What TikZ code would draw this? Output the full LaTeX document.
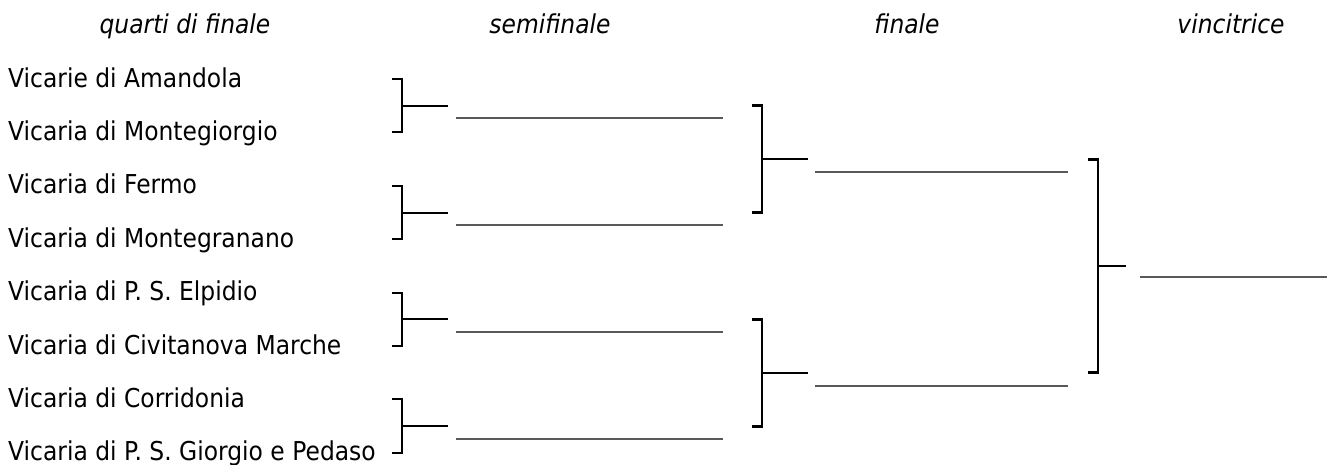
\documentclass[tikz,border=0pt]{standalone}
\usepackage{fontspec}
\setmainfont{DejaVu Sans}[FakeStretch=0.9]
\begin{document}
\begin{tikzpicture}[x=1pt,y=-1pt,
  lbl/.style={anchor=base west,inner sep=0pt,font=\fontsize{26}{30}\selectfont},
  hdr/.style={anchor=base,inner sep=0pt,font=\fontsize{26}{30}\selectfont\itshape},
  brk/.style={line width=2pt,black,line join=miter},
  brkb/.style={line width=2.8pt,black,line join=miter},
  stub/.style={line width=2pt,black},
  blank/.style={line width=2pt,black!65}]
\useasboundingbox (0,0) rectangle (1327,464);
% headers
\node[hdr] (h1) at (185,33) {quarti di finale};
\node[hdr] (h2) at (550,33) {semifinale};
\node[hdr] (h3) at (907,33) {finale};
\node[hdr] (h4) at (1231,33) {vincitrice};
% team labels
\foreach \t [count=\i from 0] in {Vicarie di Amandola,Vicaria di Montegiorgio,Vicaria di Fermo,Vicaria di Montegranano,Vicaria di P. S. Elpidio,Vicaria di Civitanova Marche,Vicaria di Corridonia,Vicaria di P. S. Giorgio e Pedaso}{
  \node[lbl] (q\i) at (8,{79+53.4*\i+8}) {\t};
}
% quarter-final brackets
\foreach \k in {0,...,3}{
  \pgfmathsetmacro\ta{79+106.8*\k}
  \pgfmathsetmacro\tb{\ta+53.4}
  \pgfmathsetmacro\tm{\ta+26.7}
  \coordinate (qa\k) at (402,\ta);
  \coordinate (qb\k) at (402,\tb);
  \coordinate (qm\k) at (402,\tm);
  \coordinate (qs\k) at (448,\tm);
  \coordinate (sl\k) at (456,\tm+12.5);
  \coordinate (sr\k) at (723,\tm+12.5);
  \draw[brk] ([xshift=-10pt]qa\k) -- (qa\k) -- (qb\k) -- ([xshift=-10pt]qb\k);
  \draw[stub] (qm\k) -- (qs\k);
  \draw[blank] (sl\k) -- (sr\k);
}
% final brackets
\foreach \j in {0,1}{
  \pgfmathsetmacro\ta{105.7+213.6*\j}
  \pgfmathsetmacro\tb{\ta+106.8}
  \pgfmathsetmacro\tm{\ta+53.4}
  \coordinate (fa\j) at (762,\ta);
  \coordinate (fb\j) at (762,\tb);
  \coordinate (fm\j) at (762,\tm);
  \coordinate (fs\j) at (808,\tm);
  \coordinate (fl\j) at (815,\tm+13);
  \coordinate (fr\j) at (1068,\tm+13);
  \draw[brkb] ([xshift=-10pt]fa\j) -- (fa\j) -- (fb\j) -- ([xshift=-10pt]fb\j);
  \draw[stub] (fm\j) -- (fs\j);
  \draw[blank] (fl\j) -- (fr\j);
}
% winner bracket
\coordinate (wa) at (1098,159.1);
\coordinate (wb) at (1098,372.7);
\coordinate (wm) at (1098,265.9);
\coordinate (ws) at (1126,265.9);
\coordinate (wl) at (1140,277);
\coordinate (wr) at (1327,277);
\draw[brkb] ([xshift=-10pt]wa) -- (wa) -- (wb) -- ([xshift=-10pt]wb);
\draw[stub] (wm) -- (ws);
\draw[blank] (wl) -- (wr);
\end{tikzpicture}
\end{document}
